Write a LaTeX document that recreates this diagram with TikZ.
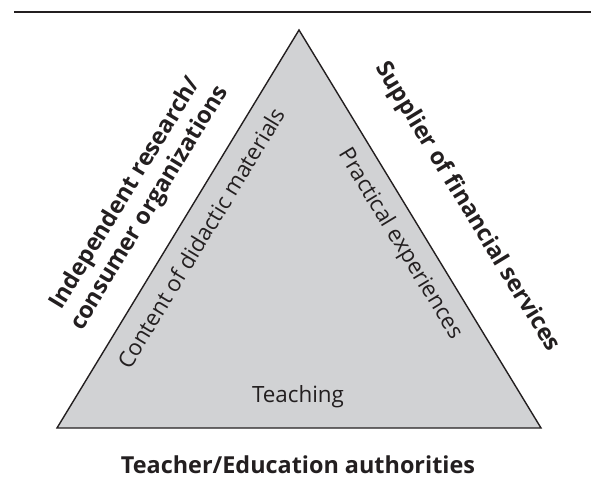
\documentclass[tikz,border=0pt]{standalone}
\usepackage{fontspec}
\setmainfont{Open Sans}
\definecolor{ink}{HTML}{231F20}
\definecolor{trifill}{HTML}{D1D2D4}
\begin{document}
\begin{tikzpicture}[x=1pt,y=-1pt,
  every node/.style={text=ink, inner sep=0pt},
  plainlbl/.style={font=\fontsize{22.4}{26}\selectfont},
  boldlbl/.style={font=\fontsize{23.4}{28}\selectfont\bfseries, align=center},
  edge/.style={draw=ink, line width=1.4pt, line join=miter}]
\useasboundingbox (0,0) rectangle (591,484);
\coordinate (r1) at (14,12);
\coordinate (r2) at (591,12);
\draw[ink, line width=2pt] (r1) -- (r2);
\coordinate (A) at (299,30);
\coordinate (B) at (57,428);
\coordinate (C) at (541,428);
\draw[edge, fill=trifill] (A) -- (B) -- (C) -- cycle;
\node[plainlbl, rotate=58.7] (content) at (201,238) {Content of didactic materials};
\node[plainlbl, rotate=-58.7] (practical) at (400,244) {Practical experiences};
\node[plainlbl] (teaching) at (298,397) {Teaching};
\node[boldlbl, rotate=58.7] (indep) at (138,201) {Independent research/\\consumer organizations};
\node[boldlbl, rotate=-58.7] (supplier) at (467,207) {Supplier of financial services};
\node[boldlbl] (teacher) at (298,465) {Teacher/Education authorities};
\end{tikzpicture}
\end{document}
